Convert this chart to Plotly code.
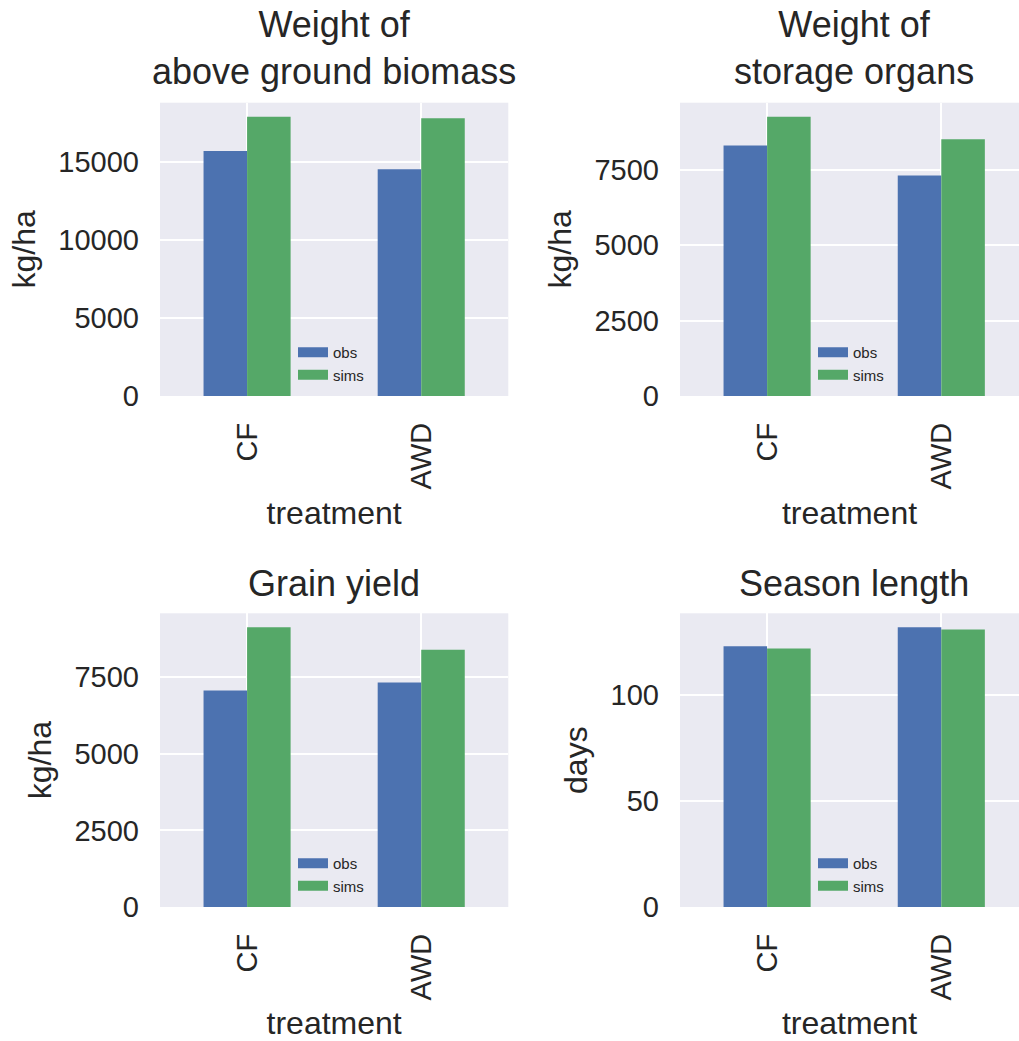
import plotly.graph_objects as go

# ---- data ----
treatments = ["CF", "AWD"]
series_names = ["obs", "sims"]
obs_biomass = [15700, 14530]
sims_biomass = [17900, 17800]
obs_storage = [8310, 7320]
sims_storage = [9270, 8520]
obs_grain = [7070, 7330]
sims_grain = [9130, 8400]
obs_season = [123, 132]
sims_season = [122, 131]

panel_titles = ["Weight of<br>above ground biomass", "Weight of<br>storage organs",
                "Grain yield", "Season length"]
y_labels = ["kg/ha", "kg/ha", "kg/ha", "days"]
x_label = "treatment"
y_dticks = [5000, 2500, 2500, 50]

panels = [(obs_biomass, sims_biomass), (obs_storage, sims_storage),
          (obs_grain, sims_grain), (obs_season, sims_season)]

# ---- style ----
W, H = 1019, 1041
BG = "#EAEAF2"
TXT = "#262626"
COLORS = ["#4C72B0", "#55A868"]
FONT = "Liberation Sans, Arial, sans-serif"

# pixel geometry of the axes areas (left, right, top, bottom)
boxes = [(160, 508.3, 102.7, 396), (680, 1028.4, 102.7, 396),
         (160, 508.3, 613.3, 907), (680, 1028.4, 613.3, 907)]
title_centers = [48.3, 48.3, 583.5, 583.5]
legend_pos = [(293, 336), (813, 336), (293, 847), (813, 847)]

fig = go.Figure()
layout = dict(width=W, height=H, margin=dict(l=0, r=0, t=0, b=0),
              paper_bgcolor="white", plot_bgcolor=BG,
              font=dict(family=FONT, color=TXT), barmode="group",
              bargap=0.5, bargroupgap=0, annotations=[])

for i, ((obs, sims), (l, r, t, b)) in enumerate(zip(panels, boxes)):
    n = i + 1
    xa = "x" if n == 1 else f"x{n}"
    ya = "y" if n == 1 else f"y{n}"
    lg = "legend" if n == 1 else f"legend{n}"
    for name, vals, col in zip(series_names, [obs, sims], COLORS):
        fig.add_trace(go.Bar(x=treatments, y=vals, name=name, marker_color=col,
                             marker_line_width=0, xaxis=xa, yaxis=ya,
                             showlegend=False))
        # legend proxy (wide flat swatch like matplotlib)
        fig.add_trace(go.Scatter(x=[None], y=[None], mode="lines", name=name,
                                 line=dict(color=col, width=10), xaxis=xa,
                                 yaxis=ya, legend=lg, showlegend=True))
    x_right = min(r, W)
    xr_hi = 1.5 - (r - x_right) / ((r - l) / 2.0)
    ymax = max(max(obs), max(sims)) * 1.05
    layout[f"xaxis{'' if n == 1 else n}"] = dict(
        domain=[l / W, x_right / W], anchor=ya, type="category",
        range=[-0.5, xr_hi], showgrid=True, gridcolor="white", gridwidth=2,
        tickangle=-90, tickfont=dict(size=29, color=TXT), ticks="",
        ticklabelstandoff=20, zeroline=False, showline=False,
        title=dict(text=x_label, font=dict(size=32, color=TXT), standoff=13),
        automargin=False)
    layout[f"yaxis{'' if n == 1 else n}"] = dict(
        domain=[1 - b / H, 1 - t / H], anchor=xa, range=[0, ymax],
        dtick=y_dticks[i], tick0=0, tickformat="d", showgrid=True,
        gridcolor="white", gridwidth=2, zeroline=False, showline=False,
        tickfont=dict(size=29, color=TXT), ticks="", ticklabelstandoff=20,
        title=dict(text=y_labels[i], font=dict(size=32, color=TXT), standoff=13),
        automargin=False)
    lx, ly = legend_pos[i]
    layout[lg] = dict(x=lx / W, y=1 - ly / H, xanchor="left", yanchor="top",
                      xref="paper", yref="paper", bgcolor="rgba(0,0,0,0)",
                      font=dict(size=15, color=TXT), itemwidth=30,
                      tracegroupgap=0)
    layout["annotations"].append(dict(
        text=panel_titles[i], x=(l + r) / 2 / W, y=1 - title_centers[i] / H,
        xref="paper", yref="paper", xanchor="center", yanchor="middle",
        showarrow=False, font=dict(size=36, color=TXT)))

fig.update_layout(**layout)
fig.write_html("out.html")
